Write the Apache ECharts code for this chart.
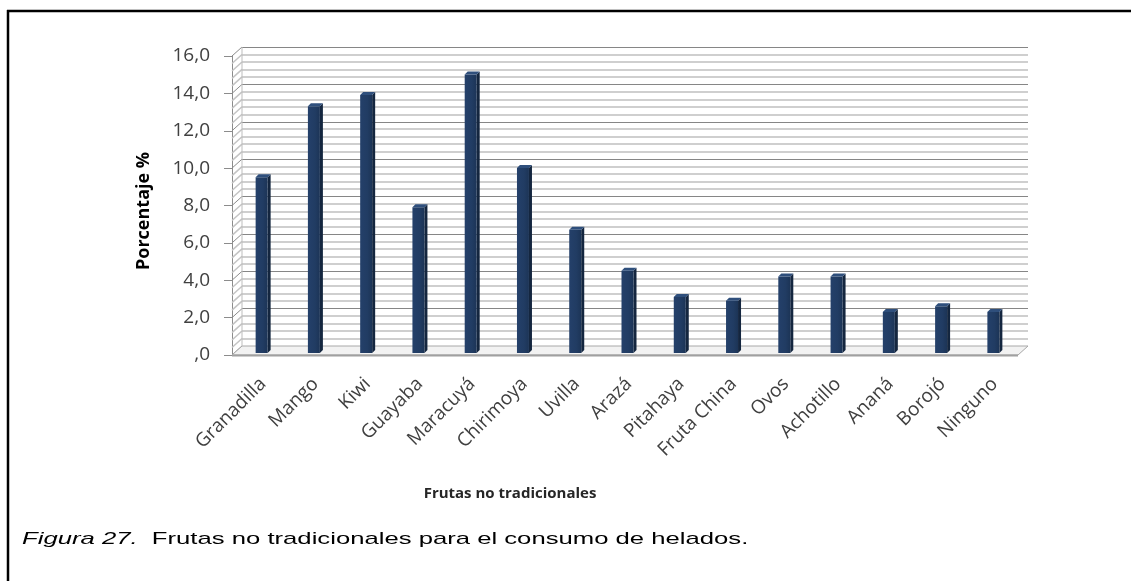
<!DOCTYPE html>
<html>
<head>
<meta charset="utf-8">
<script src="https://cdn.jsdelivr.net/npm/echarts@6/dist/echarts.min.js"></script>
<style>
  html, body { margin: 0; padding: 0; background: #ffffff; }
  #chart { width: 1131px; height: 581px; }
</style>
</head>
<body>
<div id="chart"></div>
<script>
// Fruits (non-traditional) named by respondents and their share in percent
const categories = ['Granadilla', 'Mango', 'Kiwi', 'Guayaba', 'Maracuyá', 'Chirimoya', 'Uvilla',
  'Arazá', 'Pitahaya', 'Fruta China', 'Ovos', 'Achotillo', 'Ananá', 'Borojó', 'Ninguno'];
const percentages = [9.4, 13.2, 13.8, 7.8, 14.9, 9.9, 6.6, 4.4, 3.0, 2.8, 4.1, 4.1, 2.2, 2.5, 2.2];

// Value axis range and step (labels as "16,0" ... ",0")
const yMin = 0;
const yMax = 16;
const yStep = 2;
const minorPerStep = 5;

const xTitle = 'Frutas no tradicionales';
const yTitle = 'Porcentaje %';
const captionLead = 'Figura 27.';
const captionText = '  Frutas no tradicionales para el consumo de helados.';

// 3D depth of the plot box (pixels toward the back wall)
const DEPTH_X = 10;
const DEPTH_Y = -9;

const FONT = '"Open Sans", "Noto Sans", sans-serif';
const CAPTION_FONT = '"Liberation Sans", Arial, sans-serif';

function fmtTick(v) {
  if (v === 0) return ',0';
  return v.toFixed(1).replace('.', ',');
}

const chart = echarts.init(document.getElementById('chart'), null, { renderer: 'canvas' });

// Side wall (hatch lines) + floor, drawn from the front value axis
function renderWalls(params, api) {
  const cs = params.coordSys;
  const axisX = cs.x - 5;
  const rightX = cs.x + cs.width - 3;
  const children = [];
  const minorStep = yStep / minorPerStep;
  const count = Math.round((yMax - yMin) / minorStep);
  for (let i = 0; i <= count; i++) {
    const v = yMin + i * minorStep;
    const y = api.coord([0, v])[1];
    const major = i % minorPerStep === 0;
    children.push({
      type: 'line',
      shape: { x1: axisX, y1: y, x2: axisX + DEPTH_X, y2: y + DEPTH_Y },
      style: { stroke: major ? '#8c8c8c' : '#c4c4c4', lineWidth: major ? 1 : 1.5 },
      silent: true
    });
  }
  const y0 = api.coord([0, yMin])[1];
  // floor
  children.push({
    type: 'polygon',
    shape: { points: [[axisX, y0], [rightX, y0], [rightX + DEPTH_X, y0 + DEPTH_Y], [axisX + DEPTH_X, y0 + DEPTH_Y]] },
    style: { fill: '#f2f2f2', stroke: '#a8a8a8', lineWidth: 1 },
    silent: true
  });
  children.push({
    type: 'line',
    shape: { x1: axisX, y1: y0 + 0.5, x2: rightX, y2: y0 + 0.5 },
    style: { stroke: '#a0a0a0', lineWidth: 2 },
    silent: true
  });
  // back-left edge of the side wall
  const yTop = api.coord([0, yMax])[1];
  children.push({
    type: 'line',
    shape: { x1: axisX + DEPTH_X, y1: yTop + DEPTH_Y, x2: axisX + DEPTH_X, y2: y0 + DEPTH_Y },
    style: { stroke: '#bdbdbd', lineWidth: 1 },
    silent: true
  });
  return { type: 'group', children: children };
}

// Prism-like columns: front face, darker right side, lighter top
function renderColumn(params, api) {
  const idx = api.value(0);
  const val = api.value(1);
  const top = api.coord([idx, val]);
  const base = api.coord([idx, 0]);
  const w = 12, d = 3;
  const x0 = top[0] - 7.5;
  const yt = top[1] - 2;
  const yb = base[1] - 2;
  return {
    type: 'group',
    children: [
      {
        type: 'polygon',
        shape: { points: [[x0 + w, yt], [x0 + w + d, yt - d], [x0 + w + d, yb - d], [x0 + w, yb]] },
        style: { fill: '#14263f' }
      },
      {
        type: 'rect',
        shape: { x: x0, y: yt, width: w, height: yb - yt },
        style: {
          fill: new echarts.graphic.LinearGradient(0, 0, 1, 0, [
            { offset: 0, color: '#24406a' },
            { offset: 0.6, color: '#213c63' },
            { offset: 1, color: '#1c3456' }
          ])
        }
      },
      {
        type: 'polygon',
        shape: { points: [[x0, yt], [x0 + d, yt - d], [x0 + w + d, yt - d], [x0 + w, yt]] },
        style: { fill: '#2f4f7c' }
      }
    ]
  };
}

const option = {
  backgroundColor: '#ffffff',
  animation: false,
  grid: [
    // front plane: bars, value axis, category labels
    { left: 237, right: 110, top: 56, bottom: 226, outerBoundsMode: 'none', containLabel: false },
    // back wall, shifted by the box depth
    { left: 242, right: 103, top: 47, bottom: 235, outerBoundsMode: 'none', containLabel: false }
  ],
  xAxis: [
    {
      type: 'category', gridIndex: 0, data: categories,
      axisLine: { show: false }, axisTick: { show: false },
      axisLabel: {
        rotate: 45, margin: 26, interval: 0,
        color: '#404040', fontSize: 19, fontFamily: FONT
      }
    },
    {
      type: 'category', gridIndex: 1, data: categories,
      axisLine: { show: false }, axisTick: { show: false }, axisLabel: { show: false }
    }
  ],
  yAxis: [
    {
      type: 'value', gridIndex: 0, min: yMin, max: yMax, interval: yStep, offset: 5,
      axisLine: { show: true, lineStyle: { color: '#8c8c8c', width: 1 } },
      axisTick: { show: true, length: 8, lineStyle: { color: '#8c8c8c' } },
      axisLabel: {
        formatter: fmtTick, margin: 22, color: '#404040', fontSize: 19, fontFamily: FONT,
        padding: [6, 0, 0, 0]
      },
      splitLine: { show: false }
    },
    {
      type: 'value', gridIndex: 1, min: yMin, max: yMax, interval: yStep,
      axisLine: { show: false }, axisTick: { show: false }, axisLabel: { show: false },
      splitLine: { show: true, lineStyle: { color: '#868686', width: 1 } },
      minorTick: { show: false, splitNumber: minorPerStep },
      minorSplitLine: { show: true, lineStyle: { color: '#cfcfcf', width: 2 } }
    }
  ],
  series: [
    {
      type: 'custom', name: 'walls', xAxisIndex: 0, yAxisIndex: 0,
      data: [[0, 0]], renderItem: renderWalls, silent: true, z: 1
    },
    {
      type: 'custom', name: 'Porcentaje', xAxisIndex: 0, yAxisIndex: 0,
      data: percentages.map((v, i) => [i, v]),
      renderItem: renderColumn, z: 3
    }
  ],
  graphic: [
    // page frame (top and left rules)
    { type: 'line', shape: { x1: 7, y1: 11, x2: 1131, y2: 11 }, style: { stroke: '#000', lineWidth: 2.5 }, z: 10 },
    { type: 'line', shape: { x1: 8, y1: 10, x2: 8, y2: 581 }, style: { stroke: '#000', lineWidth: 2.5 }, z: 10 },
    // axis titles
    {
      type: 'text', x: 510, y: 494, z: 10,
      style: {
        text: xTitle, align: 'center', verticalAlign: 'middle',
        fill: '#262626', font: 'bold 15px ' + FONT
      }
    },
    {
      type: 'text', x: 144, y: 211, rotation: Math.PI / 2, z: 10,
      style: {
        text: yTitle, align: 'center', verticalAlign: 'middle',
        fill: '#000000', font: 'bold 18px ' + FONT
      }
    },
    // figure caption
    {
      type: 'text', x: 22, y: 539, scaleX: 1.51, originX: 0, originY: 0, z: 10,
      style: {
        text: '{i|' + captionLead + '}{n|' + captionText + '}',
        verticalAlign: 'middle',
        rich: {
          i: { fontStyle: 'italic', fontSize: 17, fontFamily: CAPTION_FONT, fill: '#000' },
          n: { fontSize: 17, fontFamily: CAPTION_FONT, fill: '#000' }
        }
      }
    }
  ]
};

chart.setOption(option);
</script>
</body>
</html>
